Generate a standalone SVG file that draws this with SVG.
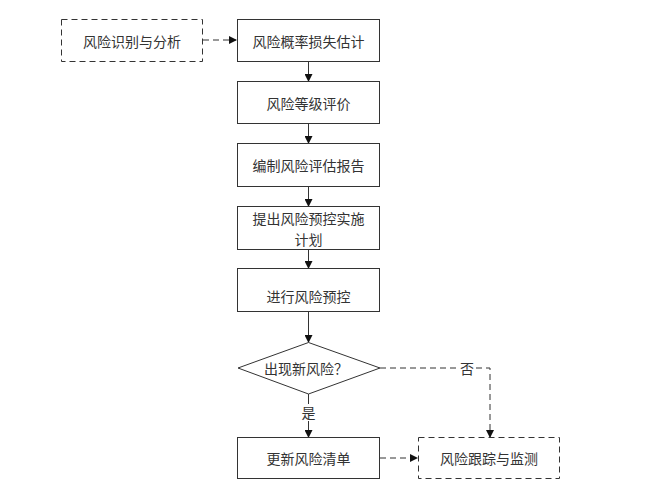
<svg xmlns="http://www.w3.org/2000/svg" width="664" height="497" viewBox="0 0 664 497">
<defs>
<style>
.box{fill:#fff;stroke:#333;stroke-width:1}
.dbox{fill:#fff;stroke:#333;stroke-width:1;stroke-dasharray:6,4}
.t{font-family:"Noto Sans CJK SC","Noto Sans CJK JP",sans-serif;font-size:14px;fill:#333;text-anchor:middle;dominant-baseline:central}
.c{fill:none;stroke:#333;stroke-width:1}
.dc{fill:none;stroke:#333;stroke-width:1;stroke-dasharray:6,4}
</style>
<marker id="ah" markerWidth="8" markerHeight="8" refX="7" refY="4" orient="auto" markerUnits="userSpaceOnUse">
<path d="M0,0 L8,4 L0,8 Z" fill="#111"/>
</marker>
</defs>
<rect width="664" height="497" fill="#fff"/>
<g id="connectors">
<line class="dc" x1="203" y1="40" x2="236" y2="40" marker-end="url(#ah)"/>
<line class="c" x1="308.5" y1="61" x2="308.5" y2="81" marker-end="url(#ah)"/>
<line class="c" x1="308.5" y1="123" x2="308.5" y2="143" marker-end="url(#ah)"/>
<line class="c" x1="308.5" y1="186" x2="308.5" y2="206" marker-end="url(#ah)"/>
<line class="c" x1="308.5" y1="249" x2="308.5" y2="268" marker-end="url(#ah)"/>
<line class="c" x1="308.5" y1="311" x2="308.5" y2="342" marker-end="url(#ah)"/>
<line class="c" x1="308.5" y1="394" x2="308.5" y2="404"/>
<line class="c" x1="308.5" y1="421" x2="308.5" y2="437" marker-end="url(#ah)"/>
<polyline class="dc" points="380,368 458,368"/>
<polyline class="dc" points="476,368 490,368 490,437" marker-end="url(#ah)"/>
<line class="dc" x1="380" y1="458" x2="417" y2="458" marker-end="url(#ah)"/>
<text class="t" x="308.5" y="412">是</text>
<text class="t" x="467" y="368">否</text>
</g>
<g id="n1"><rect class="dbox" x="61.5" y="19.5" width="141" height="42"/><text class="t" x="132" y="40.5">风险识别与分析</text></g>
<g id="n2"><rect class="box" x="237.5" y="19.5" width="142" height="42"/><text class="t" x="308.5" y="40.5">风险概率损失估计</text></g>
<g id="n3"><rect class="box" x="237.5" y="81.5" width="142" height="42"/><text class="t" x="308.5" y="102.5">风险等级评价</text></g>
<g id="n4"><rect class="box" x="237.5" y="143.5" width="142" height="43"/><text class="t" x="308.5" y="165">编制风险评估报告</text></g>
<g id="n5"><rect class="box" x="237.5" y="206.5" width="142" height="43"/><text class="t" x="308.5" y="218">提出风险预控实施</text><text class="t" x="308.5" y="239">计划</text></g>
<g id="n6"><rect class="box" x="237.5" y="268.5" width="142" height="43"/><text class="t" x="308.5" y="296">进行风险预控</text></g>
<g id="n7"><polygon class="box" points="308.5,342.5 380,368 308.5,394 238,368"/><text class="t" x="306" y="368">出现新风险？</text></g>
<g id="n8"><rect class="box" x="237.5" y="437.5" width="142" height="41"/><text class="t" x="308.5" y="458">更新风险清单</text></g>
<g id="n9"><rect class="dbox" x="418.5" y="437.5" width="141" height="41"/><text class="t" x="489" y="458">风险跟踪与监测</text></g>
</svg>
